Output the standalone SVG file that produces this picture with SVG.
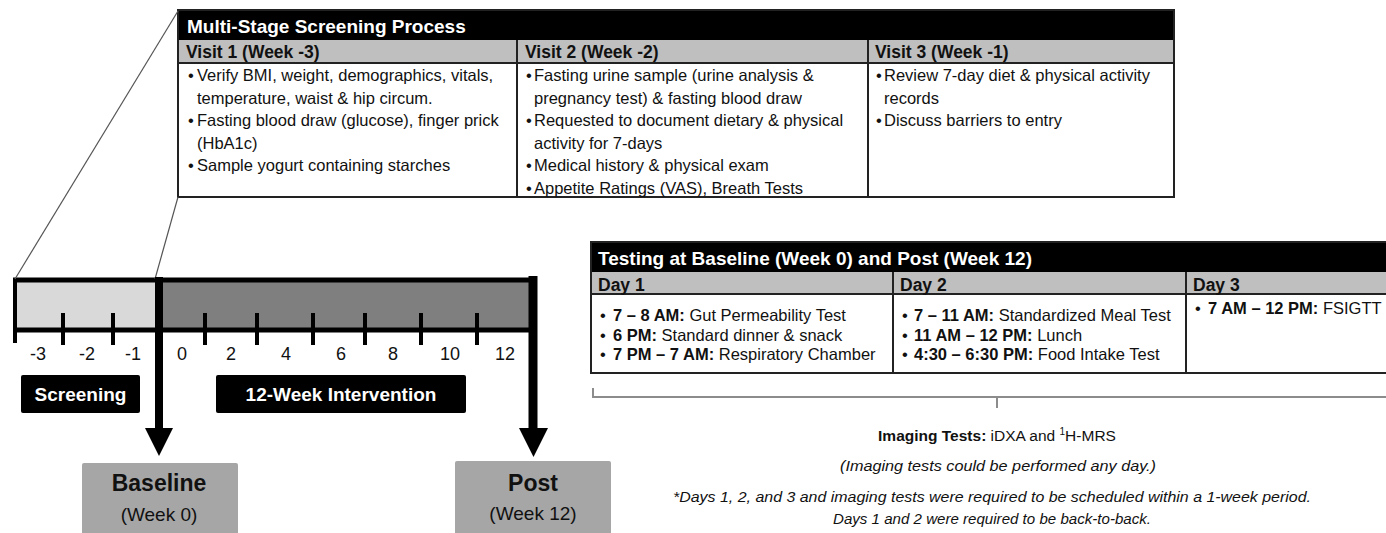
<svg xmlns="http://www.w3.org/2000/svg" width="1386" height="533" viewBox="0 0 1386 533">
<style>
text{font-family:"Liberation Sans",Arial,sans-serif;fill:#111}
.hdr{font-weight:bold;font-size:19px;fill:#fff}
.sub{font-weight:bold;font-size:17.5px}
.body{font-size:16.5px}
.b{font-weight:bold}
.num{font-size:18px;text-anchor:middle}
.lbl{font-weight:bold;font-size:19px;fill:#fff;text-anchor:middle}
.big{font-weight:bold;font-size:23px;text-anchor:middle}
.wk{font-size:19px;text-anchor:middle}
.it{font-style:italic;font-size:15px;text-anchor:middle}
.border{fill:none;stroke:#222;stroke-width:2}
.div{stroke:#222;stroke-width:2}
.tick{stroke:#000;stroke-width:4}
</style>
<defs>
<marker id="ah" viewBox="0 0 10 10" refX="5" refY="10" markerWidth="3.6" markerHeight="3.6" orient="auto">
<path d="M0,0 L10,0 L5,10 z" fill="#000"/>
</marker>
</defs>

<!-- Screening table -->
<g id="screening-table">
<rect x="178" y="10" width="996" height="187" fill="#fff"/>
<rect x="178" y="10" width="996" height="30" fill="#000"/>
<rect x="178" y="40" width="996" height="23" fill="#bfbfbf"/>
<line x1="178" y1="63" x2="1174" y2="63" class="div"/>
<line x1="517" y1="40" x2="517" y2="197" class="div"/>
<line x1="868" y1="40" x2="868" y2="197" class="div"/>
<rect x="178" y="10" width="996" height="187" class="border"/>
<text x="187" y="33" class="hdr">Multi-Stage Screening Process</text>
<text x="186" y="58" class="sub">Visit 1 (Week -3)</text>
<text x="525" y="58" class="sub">Visit 2 (Week -2)</text>
<text x="875" y="58" class="sub">Visit 3 (Week -1)</text>
<g class="body">
<text x="188" y="81" class="body">•</text>
<text x="197" y="81" class="body">Verify BMI, weight, demographics, vitals,</text>
<text x="197" y="103.5" class="body">temperature, waist &amp; hip circum.</text>
<text x="188" y="126" class="body">•</text>
<text x="197" y="126" class="body">Fasting blood draw (glucose), finger prick</text>
<text x="197" y="148.5" class="body">(HbA1c)</text>
<text x="188" y="171" class="body">•</text>
<text x="197" y="171" class="body">Sample yogurt containing starches</text>

<text x="526" y="81" class="body">•</text>
<text x="534" y="81" class="body">Fasting urine sample (urine analysis &amp;</text>
<text x="534" y="103.5" class="body">pregnancy test) &amp; fasting blood draw</text>
<text x="526" y="126" class="body">•</text>
<text x="534" y="126" class="body">Requested to document dietary &amp; physical</text>
<text x="534" y="148.5" class="body">activity for 7-days</text>
<text x="526" y="171" class="body">•</text>
<text x="534" y="171" class="body">Medical history &amp; physical exam</text>
<text x="526" y="193.5" class="body">•</text>
<text x="534" y="193.5" class="body">Appetite Ratings (VAS), Breath Tests</text>

<text x="876" y="81" class="body">•</text>
<text x="884" y="81" class="body">Review 7-day diet &amp; physical activity</text>
<text x="884" y="103.5" class="body">records</text>
<text x="876" y="126" class="body">•</text>
<text x="884" y="126" class="body">Discuss barriers to entry</text>
</g>
</g>

<!-- Timeline -->
<g id="timeline">
<rect x="15" y="280" width="142" height="50" fill="#d9d9d9"/>
<rect x="157" y="280" width="376" height="50" fill="#7f7f7f"/>
<line x1="13" y1="280" x2="536" y2="280" stroke="#000" stroke-width="5"/>
<line x1="13" y1="330" x2="536" y2="330" stroke="#000" stroke-width="5"/>
<line x1="15" y1="278" x2="15" y2="343" class="tick"/>
<line x1="63" y1="313" x2="63" y2="345" class="tick"/>
<line x1="113" y1="313" x2="113" y2="345" class="tick"/>
<line x1="205" y1="313" x2="205" y2="345" class="tick"/>
<line x1="257" y1="313" x2="257" y2="345" class="tick"/>
<line x1="313" y1="313" x2="313" y2="345" class="tick"/>
<line x1="365" y1="313" x2="365" y2="345" class="tick"/>
<line x1="421" y1="313" x2="421" y2="345" class="tick"/>
<line x1="477" y1="313" x2="477" y2="345" class="tick"/>
<text x="38" y="360" class="num">-3</text>
<text x="87" y="360" class="num">-2</text>
<text x="133" y="360" class="num">-1</text>
<text x="182" y="360" class="num">0</text>
<text x="231" y="360" class="num">2</text>
<text x="286" y="360" class="num">4</text>
<text x="341" y="360" class="num">6</text>
<text x="393" y="360" class="num">8</text>
<text x="450" y="360" class="num">10</text>
<text x="505" y="360" class="num">12</text>
</g>

<g id="label-screening">
<rect x="21" y="375" width="119" height="38" rx="2" fill="#000"/>
<text x="80.5" y="401" class="lbl">Screening</text>
</g>
<g id="label-intervention">
<rect x="216" y="375" width="250" height="38" rx="2" fill="#000"/>
<text x="341" y="401" class="lbl">12-Week Intervention</text>
</g>

<g id="baseline">
<rect x="82" y="463" width="156" height="75" rx="2" fill="#a6a6a6"/>
<text x="159" y="491" class="big">Baseline</text>
<text x="159" y="521" class="wk">(Week 0)</text>
</g>
<g id="post">
<rect x="455" y="461" width="156" height="77" rx="2" fill="#a6a6a6"/>
<text x="533" y="491" class="big">Post</text>
<text x="533" y="520" class="wk">(Week 12)</text>
</g>

<!-- Testing table -->
<g id="testing-table">
<rect x="591" y="242" width="800" height="131" fill="#fff"/>
<rect x="591" y="242" width="800" height="30" fill="#000"/>
<rect x="591" y="272" width="800" height="22" fill="#bfbfbf"/>
<line x1="591" y1="294" x2="1391" y2="294" class="div"/>
<line x1="893" y1="272" x2="893" y2="373" class="div"/>
<line x1="1186" y1="272" x2="1186" y2="373" class="div"/>
<rect x="591" y="242" width="800" height="131" class="border"/>
<text x="598" y="265" class="hdr">Testing at Baseline (Week 0) and Post (Week 12)</text>
<text x="598" y="291" class="sub">Day 1</text>
<text x="900" y="291" class="sub">Day 2</text>
<text x="1193" y="291" class="sub">Day 3</text>
<text x="600" y="321" class="body">•</text>
<text x="613" y="321" class="body"><tspan class="b">7 – 8 AM:</tspan> Gut Permeability Test</text>
<text x="600" y="341" class="body">•</text>
<text x="613" y="341" class="body"><tspan class="b">6 PM:</tspan> Standard dinner &amp; snack</text>
<text x="600" y="360" class="body">•</text>
<text x="613" y="360" class="body"><tspan class="b">7 PM – 7 AM:</tspan> Respiratory Chamber</text>
<text x="902" y="321" class="body">•</text>
<text x="914" y="321" class="body"><tspan class="b">7 – 11 AM:</tspan> Standardized Meal Test</text>
<text x="902" y="341" class="body">•</text>
<text x="914" y="341" class="body"><tspan class="b">11 AM – 12 PM:</tspan> Lunch</text>
<text x="902" y="360" class="body">•</text>
<text x="914" y="360" class="body"><tspan class="b">4:30 – 6:30 PM:</tspan> Food Intake Test</text>
<text x="1195" y="314" class="body">•</text>
<text x="1208" y="314" class="body"><tspan class="b">7 AM – 12 PM:</tspan> FSIGTT</text>
</g>

<g id="imaging-notes">
<path d="M593,388 V397 H1386 M997,397 V408" fill="none" stroke="#8c8c8c" stroke-width="2"/>
<text x="997" y="441" font-size="15.5" text-anchor="middle"><tspan class="b">Imaging Tests:</tspan> iDXA and <tspan font-size="10" dy="-6">1</tspan><tspan dy="6">H-MRS</tspan></text>
<text x="998" y="471" class="it" textLength="316" lengthAdjust="spacingAndGlyphs">(Imaging tests could be performed any day.)</text>
<text x="992" y="502" class="it" textLength="638" lengthAdjust="spacingAndGlyphs">*Days 1, 2, and 3 and imaging tests were required to be scheduled within a 1-week period.</text>
<text x="992" y="524" class="it" textLength="318" lengthAdjust="spacingAndGlyphs">Days 1 and 2 were required to be back-to-back.</text>
</g>

<!-- Connectors -->
<g id="connectors">
<line x1="178" y1="11" x2="15" y2="279" stroke="#555" stroke-width="1.2"/>
<line x1="178" y1="197" x2="155" y2="279" stroke="#555" stroke-width="1.2"/>
<line x1="159" y1="277" x2="159" y2="430" stroke="#000" stroke-width="8"/>
<polygon points="145,428 173,428 159,456" fill="#000"/>
<line x1="533" y1="276" x2="533" y2="430" stroke="#000" stroke-width="9"/>
<polygon points="519,428 548,428 533.5,457" fill="#000"/>
</g>
</svg>
